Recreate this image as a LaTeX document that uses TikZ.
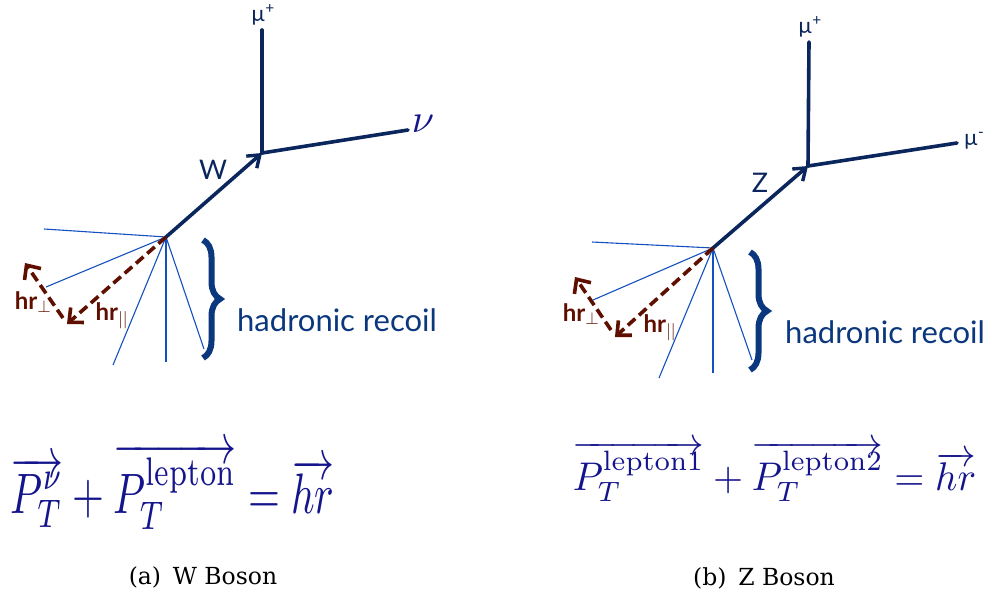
\documentclass[tikz,border=0pt]{standalone}
\usepackage{fontspec}
\setmainfont{Latin Modern Roman}
\newfontfamily\capfont{DejaVu Serif}
\newfontfamily\gillfont{Lato}
\usetikzlibrary{arrows.meta,decorations.pathreplacing}
\definecolor{navy}{RGB}{10,38,92}
\definecolor{thinblue}{RGB}{20,80,190}
\definecolor{hrbrown}{RGB}{95,15,0}
\definecolor{mathblue}{RGB}{20,20,140}
\definecolor{recoilblue}{RGB}{10,55,125}
\tikzset{
  thickline/.style={navy,line width=3.6pt,line cap=round},
  bosonarrow/.style={thickline,-{Straight Barb[length=11pt,width=16pt,line width=3.4pt]}},
  jet/.style={thinblue,line width=1.1pt},
  hrarrow/.style={hrbrown,line width=3.6pt,dash pattern=on 10pt off 5pt,-{Straight Barb[length=11pt,width=20pt,line width=3.6pt]}},
  mulabel/.style={navy,font=\gillfont\fontsize{22}{24}\selectfont,inner sep=0pt},
  bosonlabel/.style={navy,font=\gillfont\fontsize{27}{29}\selectfont,inner sep=0pt},
  hrlabel/.style={hrbrown,font=\gillfont\bfseries\fontsize{24}{26}\selectfont,inner sep=0pt},
  recoil/.style={recoilblue,font=\gillfont\fontsize{31}{33}\selectfont,inner sep=0pt,anchor=base west},
  bracestyle/.style={recoilblue,line width=6pt,decorate,decoration={brace,amplitude=17pt}},
  caption/.style={font=\capfont\fontsize{23.5}{26}\selectfont,inner sep=0pt,anchor=base}
}
\begin{document}
\begin{tikzpicture}[x=1pt,y=-1pt]
\useasboundingbox (0,0) rectangle (989,597);
% ---------------- left panel (W) ----------------
\coordinate (Lv) at (166,237);
\coordinate (Ld) at (262,153);
\coordinate (Lmu) at (262,30);
\coordinate (Lnu) at (408,130);
\coordinate (Lj1) at (44,229);
\coordinate (Lj2) at (46,287);
\coordinate (Lj3) at (113,365);
\coordinate (Lj4) at (166,362);
\coordinate (Lj5) at (204,349);
\coordinate (Lpar) at (67,324);
\coordinate (Lperp0) at (63,318);
\coordinate (Lperp) at (25,263);
\coordinate (Lb1) at (203,240);
\coordinate (Lb2) at (203,358);
\foreach \j in {Lj1,Lj2,Lj3,Lj4,Lj5} \draw[jet] (Lv) -- (\j);
\draw[thickline] (Ld) -- (Lmu);
\draw[thickline] (Ld) -- (Lnu);
\draw[bosonarrow] (Lv) -- (Ld);
\draw[hrarrow] (Lv) -- (Lpar);
\draw[hrarrow] (Lperp0) -- (Lperp);
\node[mulabel] (Lmul) at (263,15) {µ\textsuperscript{+}};
\node[mathblue,scale=4,inner sep=0pt] (Lnul) at (423,124) {$\nu$};
\node[bosonlabel] (LW) at (213,170) {W};
\node[hrlabel] (Lhrp) at (33,302) {hr$_{\perp}$};
\node[hrlabel] (Lhrl) at (112,316) {hr$_{||}$};
\draw[bracestyle] (Lb1) -- (Lb2);
\node[recoil] (Lrec) at (237,331) {hadronic recoil};
\node[mathblue,xscale=4.1,yscale=5.7,inner sep=0pt,anchor=base west] (Leq) at (10,513) {$\overrightarrow{P_T^{\nu}}+\overrightarrow{P_T^{\mathrm{lepton}}}=\overrightarrow{hr}$};
\node[caption] (Lcap) at (203,584) {(a)\enspace W Boson};
% ---------------- right panel (Z) ----------------
\coordinate (Rv) at (713,248);
\coordinate (Rd) at (808,166);
\coordinate (Rmu) at (809,42);
\coordinate (Rmum) at (957,143);
\coordinate (Rj1) at (592,242);
\coordinate (Rj2) at (593,300);
\coordinate (Rj3) at (659,378);
\coordinate (Rj4) at (713,373);
\coordinate (Rj5) at (752,360);
\coordinate (Rpar) at (615,337);
\coordinate (Rperp0) at (611,330);
\coordinate (Rperp) at (575,277);
\coordinate (Rb1) at (750,252);
\coordinate (Rb2) at (750,370);
\foreach \j in {Rj1,Rj2,Rj3,Rj4,Rj5} \draw[jet] (Rv) -- (\j);
\draw[thickline] (Rd) -- (Rmu);
\draw[thickline] (Rd) -- (Rmum);
\draw[bosonarrow] (Rv) -- (Rd);
\draw[hrarrow] (Rv) -- (Rpar);
\draw[hrarrow] (Rperp0) -- (Rperp);
\node[mulabel] (Rmul) at (810,27) {µ\textsuperscript{+}};
\node[mulabel] (Rmuml) at (974,141) {µ\textsuperscript{-}};
\node[bosonlabel] (RZ) at (760,183) {Z};
\node[hrlabel] (Rhrp) at (581,314) {hr$_{\perp}$};
\node[hrlabel] (Rhrl) at (660,328) {hr$_{||}$};
\draw[bracestyle] (Rb1) -- (Rb2);
\node[recoil] (Rrec) at (785,343) {hadronic recoil};
\node[mathblue,xscale=3.87,yscale=4.0,inner sep=0pt,anchor=base west] (Req) at (572,490) {$\overrightarrow{P_T^{\mathrm{lepton1}}}+\overrightarrow{P_T^{\mathrm{lepton2}}}=\overrightarrow{hr}$};
\node[caption] (Rcap) at (764,585) {(b)\enspace Z Boson};
\end{tikzpicture}
\end{document}
